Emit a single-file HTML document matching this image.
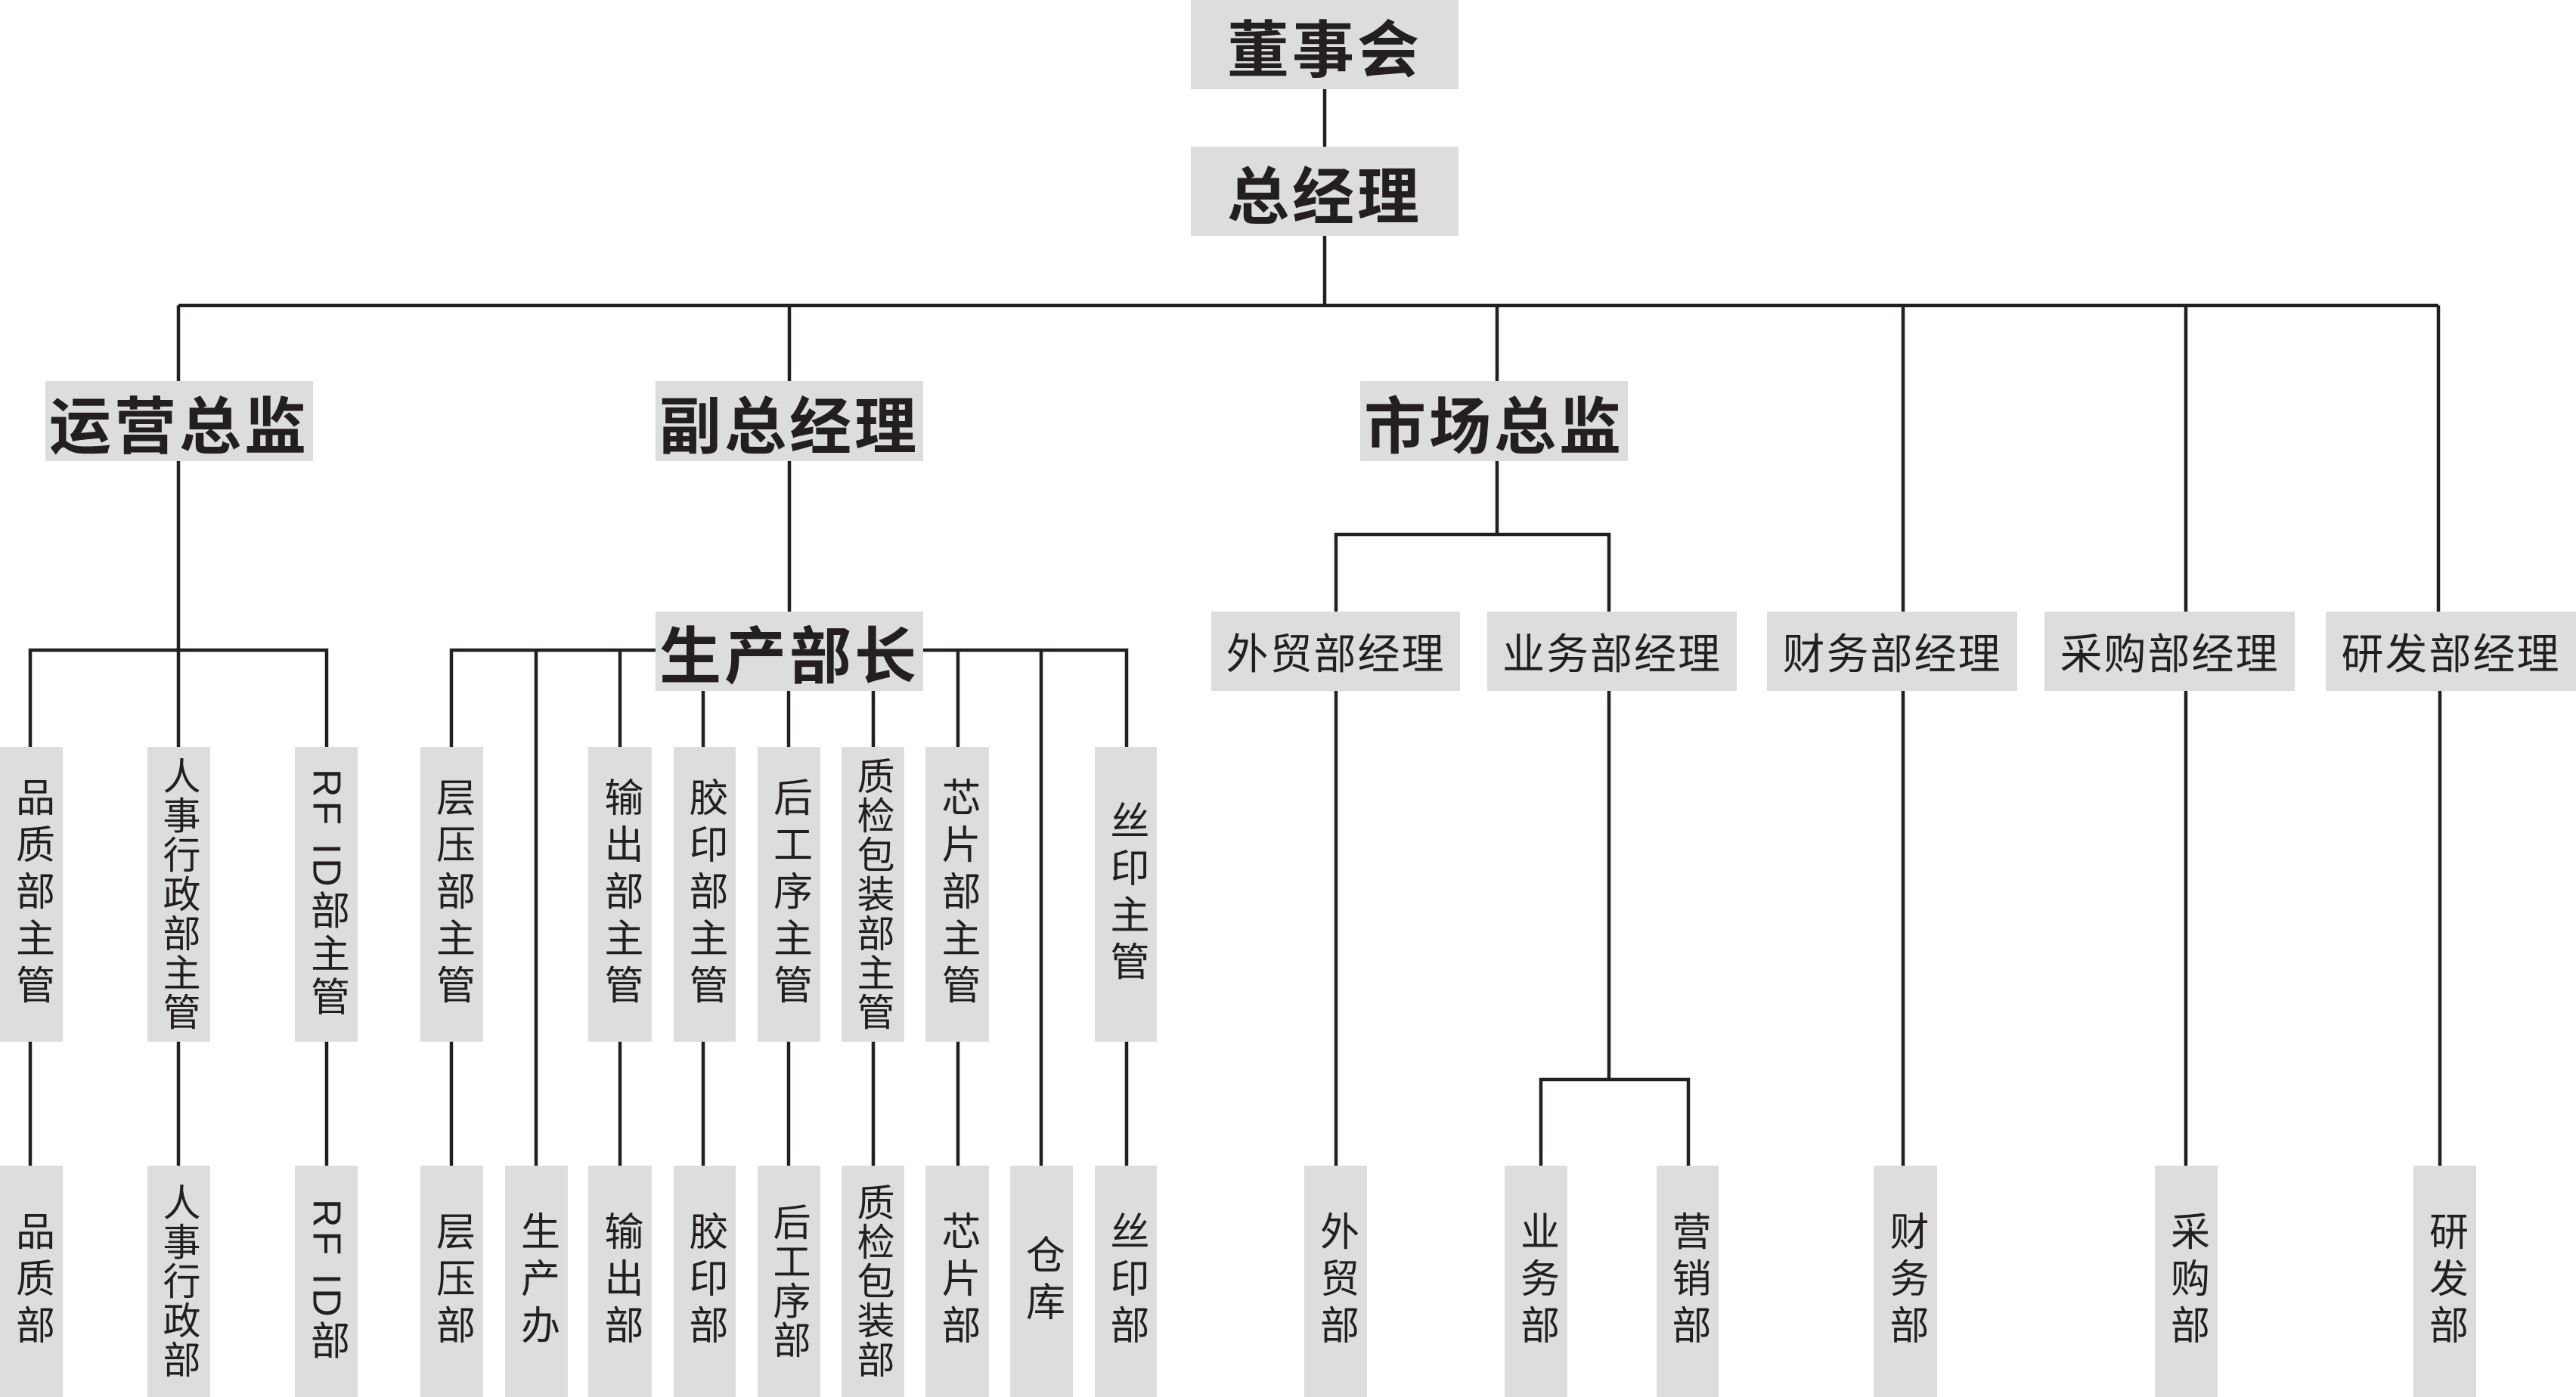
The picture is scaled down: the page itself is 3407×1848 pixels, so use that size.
<!DOCTYPE html>
<html><head><meta charset="utf-8"><style>
html,body{margin:0;padding:0;background:#fff}
body{width:3407px;height:1848px;position:relative;overflow:hidden;font-family:"Liberation Sans","Noto Sans CJK SC",sans-serif;color:#231f20}
.b{position:absolute;background:#dddddd;display:flex;align-items:center;justify-content:center;white-space:nowrap}
.h{font-size:82px;font-weight:bold;letter-spacing:4px}
.m{font-size:56px;letter-spacing:2px}
.v{writing-mode:vertical-rl;font-size:52px;letter-spacing:10px;line-height:1}
.v7{letter-spacing:2px;font-size:50px}
.rf{letter-spacing:5px}
svg{position:absolute;left:0;top:0}
</style></head><body>
<svg width="3407" height="1848" viewBox="0 0 3407 1848">
<g stroke="#231f20" stroke-width="4.5" fill="none">
<path d="M1752 118V194M1752 312V404M236 404H3225M236 404V504M1044 404V504M1980 404V504M2517 404V809M2891 404V809M3225 404V809"/>
<path d="M236 610V860M40 988V860H432V988M236 860V988"/>
<path d="M1044 610V809M597 988V860H1490V988M709 860V1542M820 860V988M930 914V988M1043 914V988M1155 914V988M1267 860V988M1377 860V1542"/>
<path d="M40 1378V1542M236 1378V1542M432 1378V1542M597 1378V1542M820 1378V1542M930 1378V1542M1043 1378V1542M1155 1378V1542M1267 1378V1542M1490 1378V1542"/>
<path d="M1980 610V707M1767 809V707H2128V809M1767 914V1542M2128 914V1428M2038 1542V1428H2233V1542M2517 914V1542M2891 914V1542M3227 914V1542"/>
</g></svg>
<div class="b h" style="left:1575px;top:0;width:354px;height:118px">董事会</div>
<div class="b h" style="left:1575px;top:194px;width:354px;height:118px">总经理</div>
<div class="b h" style="left:60px;top:504px;width:354px;height:106px">运营总监</div>
<div class="b h" style="left:867px;top:504px;width:354px;height:106px">副总经理</div>
<div class="b h" style="left:1799px;top:504px;width:354px;height:106px">市场总监</div>
<div class="b h" style="left:867px;top:809px;width:354px;height:105px">生产部长</div>
<div class="b m" style="left:1602px;top:809px;width:329px;height:105px">外贸部经理</div>
<div class="b m" style="left:1967px;top:809px;width:330px;height:105px">业务部经理</div>
<div class="b m" style="left:2337px;top:809px;width:331px;height:105px">财务部经理</div>
<div class="b m" style="left:2704px;top:809px;width:331px;height:105px">采购部经理</div>
<div class="b m" style="left:3076px;top:809px;width:331px;height:105px">研发部经理</div>

<div class="b v" style="left:0;top:988px;width:83px;height:390px">品质部主管</div>
<div class="b v v7" style="left:195px;top:988px;width:83px;height:390px">人事行政部主管</div>
<div class="b v rf" style="left:390px;top:988px;width:83px;height:390px">RF ID部主管</div>
<div class="b v" style="left:556px;top:988px;width:83px;height:390px">层压部主管</div>
<div class="b v" style="left:778px;top:988px;width:84px;height:390px">输出部主管</div>
<div class="b v" style="left:891px;top:988px;width:82px;height:390px">胶印部主管</div>
<div class="b v" style="left:1002px;top:988px;width:83px;height:390px">后工序主管</div>
<div class="b v v7" style="left:1113px;top:988px;width:83px;height:390px">质检包装部主管</div>
<div class="b v" style="left:1224px;top:988px;width:84px;height:390px">芯片部主管</div>
<div class="b v" style="left:1448px;top:988px;width:82px;height:390px">丝印主管</div>

<div class="b v" style="left:0;top:1542px;width:83px;height:306px">品质部</div>
<div class="b v v7" style="left:195px;top:1542px;width:83px;height:306px">人事行政部</div>
<div class="b v rf" style="left:390px;top:1542px;width:83px;height:306px">RF ID部</div>
<div class="b v" style="left:556px;top:1542px;width:83px;height:306px">层压部</div>
<div class="b v" style="left:668px;top:1542px;width:83px;height:306px">生产办</div>
<div class="b v" style="left:778px;top:1542px;width:84px;height:306px">输出部</div>
<div class="b v" style="left:891px;top:1542px;width:82px;height:306px">胶印部</div>
<div class="b v v7" style="left:1002px;top:1542px;width:83px;height:306px">后工序部</div>
<div class="b v v7" style="left:1113px;top:1542px;width:83px;height:306px">质检包装部</div>
<div class="b v" style="left:1224px;top:1542px;width:84px;height:306px">芯片部</div>
<div class="b v" style="left:1336px;top:1542px;width:83px;height:306px">仓库</div>
<div class="b v" style="left:1448px;top:1542px;width:82px;height:306px">丝印部</div>

<div class="b v" style="left:1725px;top:1542px;width:83px;height:306px">外贸部</div>
<div class="b v" style="left:1990px;top:1542px;width:83px;height:306px">业务部</div>
<div class="b v" style="left:2191px;top:1542px;width:82px;height:306px">营销部</div>
<div class="b v" style="left:2478px;top:1542px;width:84px;height:306px">财务部</div>
<div class="b v" style="left:2850px;top:1542px;width:83px;height:306px">采购部</div>
<div class="b v" style="left:3192px;top:1542px;width:83px;height:306px">研发部</div>
</body></html>
